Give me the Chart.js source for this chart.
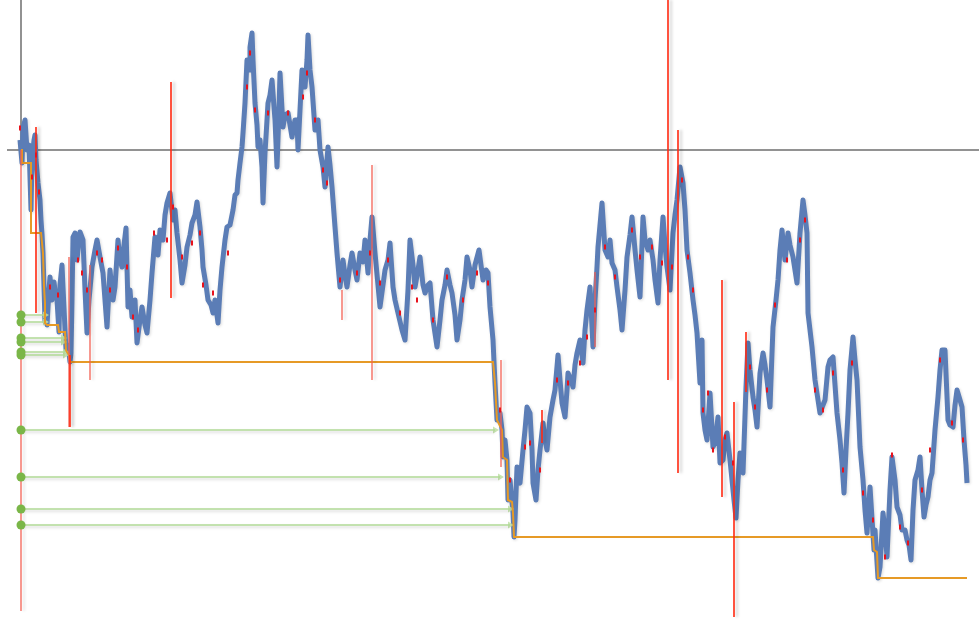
<!DOCTYPE html>
<html><head><meta charset="utf-8">
<script src="https://cdn.jsdelivr.net/npm/chart.js@4/dist/chart.umd.min.js"></script>
<style>html,body{margin:0;padding:0;background:#fff;overflow:hidden}canvas{display:block}</style>
</head><body>
<canvas id="c" width="979" height="621"></canvas>
<script>
// time t (origin at vertical reference line), value v (0 = horizontal reference level)
const series = [[-1,10],[1,-13],[2,22],[4,30],[6,0],[8,5],[10,-60],[11,-10],[13,10],[14,15],[15,-10],[17,-33],[19,-50],[20,-70],[21,-84],[22,-103],[23,-137],[24,-172],[25,-140],[26,-175],[28,-140],[29,-127],[31,-150],[33,-132],[34,-140],[36,-150],[38,-182],[39,-135],[41,-115],[42,-137],[45,-200],[47,-195],[49,-212],[50,-203],[51,-150],[52,-87],[54,-83],[56,-110],[58,-90],[59,-82],[62,-90],[64,-140],[66,-183],[68,-150],[71,-117],[74,-100],[76,-90],[79,-107],[82,-123],[84,-150],[86,-177],[89,-120],[92,-150],[94,-137],[97,-90],[99,-110],[101,-117],[103,-95],[105,-78],[107,-157],[109,-140],[111,-167],[114,-150],[116,-193],[119,-170],[121,-157],[124,-175],[126,-183],[129,-150],[131,-123],[134,-87],[137,-105],[139,-80],[142,-90],[144,-65],[146,-53],[149,-43],[152,-70],[154,-60],[156,-83],[159,-110],[161,-133],[164,-115],[166,-97],[169,-85],[171,-73],[174,-65],[176,-52],[179,-77],[181,-100],[182,-117],[185,-135],[187,-150],[190,-155],[192,-163],[194,-150],[197,-173],[199,-140],[201,-117],[204,-90],[206,-77],[209,-75],[212,-60],[214,-45],[216,-43],[217,-30],[219,-13],[221,3],[222,17],[224,47],[226,90],[228,80],[229,103],[231,117],[232,90],[234,47],[236,25],[237,3],[239,10],[241,-17],[242,-53],[244,-3],[246,30],[247,47],[249,55],[251,70],[254,30],[256,-17],[258,40],[259,77],[262,23],[264,35],[267,37],[269,25],[271,13],[274,30],[276,30],[277,0],[279,40],[281,80],[284,63],[286,90],[287,115],[289,80],[291,63],[294,20],[297,30],[299,0],[302,-17],[304,-37],[307,3],[309,-15],[311,-37],[314,-77],[316,-103],[319,-137],[322,-110],[324,-125],[326,-137],[329,-115],[331,-103],[334,-120],[336,-130],[339,-103],[342,-112],[344,-90],[347,-123],[349,-90],[351,-67],[354,-103],[357,-135],[359,-157],[362,-135],[364,-120],[367,-110],[369,-93],[372,-137],[374,-150],[377,-163],[381,-180],[384,-190],[387,-140],[389,-90],[392,-115],[394,-137],[397,-120],[399,-107],[402,-135],[404,-143],[407,-135],[409,-133],[412,-170],[416,-197],[419,-170],[421,-150],[424,-135],[426,-120],[429,-135],[431,-143],[434,-165],[436,-190],[439,-170],[441,-150],[444,-130],[446,-107],[449,-120],[451,-137],[454,-115],[458,-100],[460,-115],[462,-130],[465,-120],[467,-123],[469,-157],[472,-190],[473,-212],[474,-233],[476,-270],[479,-263],[481,-280],[482,-307],[484,-290],[486,-310],[487,-350],[489,-330],[491,-352],[492,-363],[493,-387],[494,-370],[496,-317],[497,-330],[499,-333],[502,-300],[504,-280],[506,-257],[509,-263],[511,-300],[512,-333],[515,-350],[517,-320],[519,-300],[522,-273],[524,-290],[526,-300],[529,-267],[532,-250],[534,-240],[537,-205],[539,-230],[541,-253],[544,-267],[546,-240],[547,-223],[550,-230],[552,-237],[554,-215],[556,-203],[559,-190],[562,-213],[564,-180],[566,-160],[569,-137],[572,-197],[574,-150],[576,-117],[577,-97],[579,-75],[581,-53],[584,-100],[587,-107],[589,-90],[591,-113],[594,-120],[596,-137],[599,-160],[601,-180],[604,-140],[606,-107],[609,-85],[611,-67],[614,-100],[616,-120],[619,-147],[622,-67],[624,-90],[627,-100],[629,-90],[632,-110],[634,-130],[637,-153],[639,-110],[642,-67],[644,-95],[646,-117],[649,-140],[652,-83],[654,-65],[656,-50],[659,-17],[662,-33],[664,-60],[666,-100],[669,-123],[672,-150],[674,-165],[676,-183],[679,-233],[681,-190],[682,-263],[684,-280],[686,-290],[689,-243],[692,-297],[694,-293],[697,-267],[699,-313],[702,-310],[704,-290],[706,-283],[709,-310],[711,-330],[713,-350],[715,-368],[717,-330],[719,-303],[722,-323],[725,-237],[727,-193],[729,-220],[732,-247],[734,-260],[736,-277],[739,-223],[742,-203],[744,-215],[746,-230],[749,-257],[751,-203],[752,-177],[755,-150],[757,-130],[759,-100],[761,-80],[764,-110],[767,-83],[769,-95],[772,-107],[776,-133],[779,-83],[782,-50],[784,-65],[786,-83],[787,-163],[789,-180],[791,-197],[794,-230],[797,-250],[799,-263],[802,-255],[804,-250],[807,-217],[809,-210],[812,-207],[816,-263],[819,-290],[821,-313],[823,-343],[825,-300],[827,-263],[829,-220],[832,-187],[834,-210],[836,-230],[839,-297],[842,-330],[844,-360],[846,-383],[849,-337],[853,-400],[854,-380],[857,-428],[859,-417],[862,-363],[864,-380],[866,-407],[869,-340],[871,-307],[874,-330],[876,-357],[879,-365],[881,-380],[884,-380],[886,-390],[888,-395],[890,-410],[892,-360],[894,-330],[897,-320],[899,-307],[901,-340],[903,-367],[905,-355],[907,-347],[909,-330],[911,-323],[914,-280],[917,-247],[919,-220],[921,-200],[924,-200],[927,-270],[929,-275],[932,-277],[934,-255],[936,-240],[939,-250],[941,-257],[943,-290],[945,-315],[946,-333]];

const runningMin = [[0,0],[1,0],[1,-13],[10,-13],[10,-83],[20,-83],[22,-103],[23,-137],[24,-153],[24,-173],[26,-175],[37,-175],[38,-182],[44,-182],[45,-200],[46,-202],[48,-205],[49,-212],[472,-212],[474,-233],[476,-270],[481,-280],[482,-307],[486,-310],[487,-350],[491,-352],[492,-363],[493,-387],[852,-387],[853,-400],[856,-402],[857,-428],[946,-428]];

// [t, high, low]
const spikesStrong = [[15,23,-163],[49,-205,-277],[150,68,-148],[521,-260,-293],[647,150,-230],[657,20,-323],[701,-130,-347],[713,-252,-467],[725,-182,-242]];
const spikesSoft = [[0,0,-461],[48,-107,-277],[69,-115,-230],[321,-140,-170],[351,-15,-230],[480,-210,-317],[574,-122,-197]];

const marks = [[-1,22],[11,-27],[15,-5],[18,-42],[29,-137],[37,-145],[57,-110],[61,-123],[66,-140],[76,-103],[81,-110],[89,-140],[97,-98],[106,-117],[112,-167],[117,-180],[133,-83],[146,-90],[152,-57],[161,-107],[171,-93],[179,-83],[182,-135],[192,-143],[207,-103],[226,63],[229,97],[234,40],[247,37],[267,37],[282,53],[286,77],[294,30],[302,-20],[306,-33],[319,-130],[336,-123],[349,-103],[359,-133],[367,-110],[379,-163],[391,-137],[396,-150],[412,-170],[426,-127],[442,-150],[456,-123],[467,-133],[479,-260],[489,-330],[504,-297],[509,-293],[519,-320],[536,-230],[547,-233],[559,-213],[566,-187],[574,-160],[584,-97],[594,-127],[611,-80],[619,-107],[631,-97],[641,-113],[651,-117],[661,-30],[667,-107],[672,-140],[682,-260],[687,-243],[692,-300],[704,-287],[712,-313],[729,-217],[734,-257],[746,-240],[754,-155],[766,-110],[779,-90],[784,-70],[794,-240],[802,-260],[812,-223],[822,-320],[831,-213],[842,-343],[852,-370],[864,-407],[871,-305],[879,-377],[887,-393],[901,-340],[909,-300],[919,-210],[931,-273],[942,-290]];

const levels = [-165,-172,-188,-192,-202,-205,-280,-327,-359,-375];
const levelReachedAt = [24,24,42,42,44,44,474,479,489,489];

const refTimeStart = -14, refTimeEnd = 958, refTop = 150;

function spikeData(list){
  return list.flatMap(s => [{x:s[0],y:s[1]},{x:s[0],y:s[2]},{x:s[0],y:null}]);
}
const pts = a => a.map(p => ({x:p[0], y:p[1]}));

const shadowPlugin = {
  id:'shadows',
  beforeDatasetDraw(chart,args){
    const ds = chart.data.datasets[args.index];
    if(ds.shadow){const c=chart.ctx;c.save();c.shadowColor=ds.shadow.color;c.shadowBlur=ds.shadow.blur;c.shadowOffsetX=ds.shadow.x;c.shadowOffsetY=ds.shadow.y;}
  },
  afterDatasetDraw(chart,args){
    if(chart.data.datasets[args.index].shadow) chart.ctx.restore();
  }
};

new Chart(document.getElementById('c'), {
  type:'line',
  data:{datasets:[
    {label:'min levels', type:'scatter', order:0, data:levels.map(v=>({x:0,y:v})), pointRadius:4.5, pointBackgroundColor:'#7ab648', pointBorderWidth:0, showLine:false},
    {label:'marks', type:'scatter', order:1, data:pts(marks), pointStyle:'line', rotation:90, pointRadius:2.5, pointBorderColor:'#e8121c', pointBorderWidth:2, showLine:false},
    {label:'spikes', order:2, data:spikeData(spikesStrong), borderColor:'#ff2a12', borderWidth:1.6, pointRadius:0, spanGaps:false, shadow:{color:'rgba(0,0,0,0.22)',blur:3,x:3,y:0}},
    {label:'spikes soft', order:3, data:spikeData(spikesSoft), borderColor:'rgba(244,96,82,0.8)', borderWidth:1.6, pointRadius:0, spanGaps:false, shadow:{color:'rgba(0,0,0,0.15)',blur:3,x:3,y:0}},
    {label:'running min', order:4, data:pts(runningMin), borderColor:'#e69a26', borderWidth:2, pointRadius:0},
    {label:'arrows', order:5, data:levels.flatMap((v,i)=>[{x:0,y:v},{x:levelReachedAt[i],y:v},{x:levelReachedAt[i],y:null}]), borderColor:'rgba(176,218,150,0.75)', borderWidth:2, pointRadius:0, spanGaps:false, shadow:{color:'rgba(0,0,0,0.18)',blur:3,x:0,y:2}},
    {label:'arrow heads', type:'scatter', order:5, data:levels.map((v,i)=>({x:levelReachedAt[i],y:v})), pointStyle:'triangle', rotation:90, pointRadius:4, pointBackgroundColor:'rgba(190,225,165,0.85)', pointBorderWidth:0, showLine:false},
    {label:'series', order:6, data:pts(series), borderColor:'#5b7db6', borderWidth:5, pointRadius:0, borderJoinStyle:'round', shadow:{color:'rgba(0,0,0,0.15)',blur:3,x:1,y:1}},
    {label:'ref h', order:7, data:[{x:refTimeStart,y:0},{x:refTimeEnd,y:0}], borderColor:'#6e6e6e', borderWidth:1.5, pointRadius:0},
    {label:'ref v', order:7, data:[{x:0,y:0},{x:0,y:refTop}], borderColor:'#6e6e6e', borderWidth:1.5, pointRadius:0}
  ]},
  options:{
    responsive:false, animation:false, devicePixelRatio:1,
    layout:{padding:0, autoPadding:false},
    plugins:{legend:{display:false}, tooltip:{enabled:false}},
    scales:{
      x:{type:'linear', min:-21, max:958, display:false, offset:false},
      y:{type:'linear', min:-471, max:150, display:false}
    }
  },
  plugins:[shadowPlugin]
});
</script>
</body></html>
